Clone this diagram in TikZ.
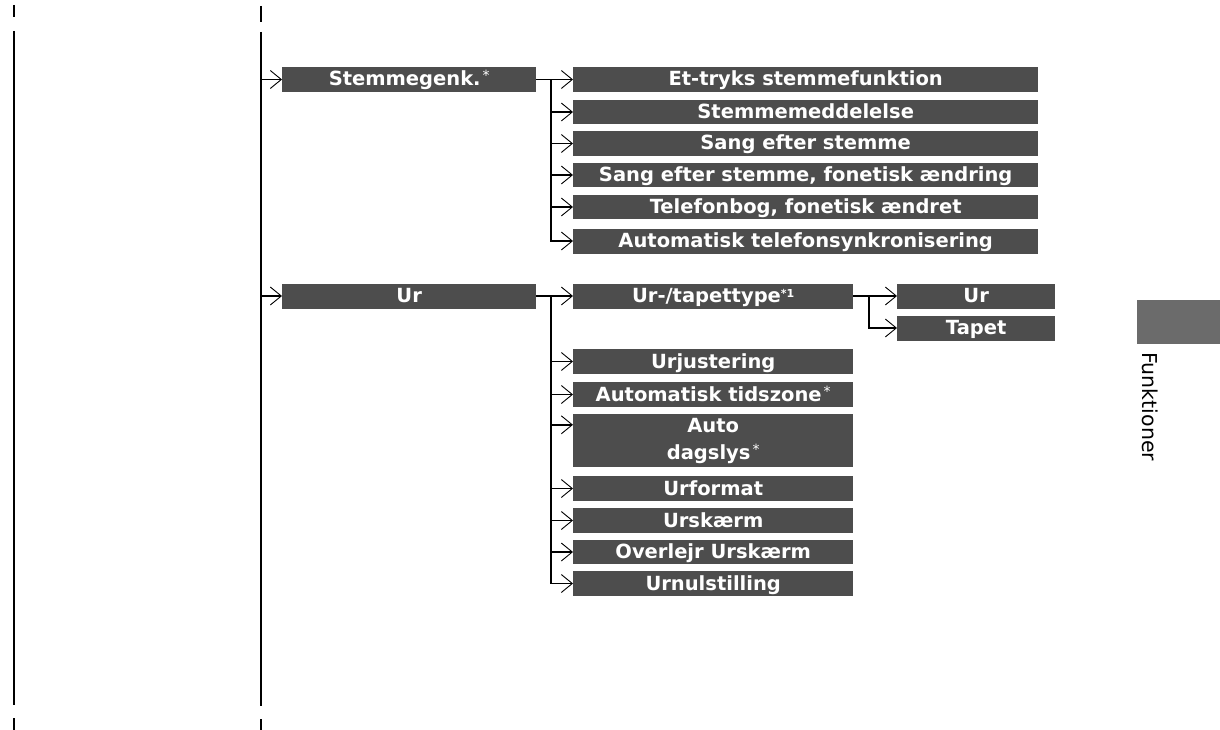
\documentclass[tikz,border=0pt]{standalone}
\usepackage{fontspec}
\setmainfont{DejaVu Sans}
\usetikzlibrary{arrows.meta,calc}
\definecolor{boxgray}{HTML}{4D4D4D}
\definecolor{tabgray}{HTML}{6B6B6B}
\newcommand{\starmark}{\hspace{2pt}\raisebox{5pt}{\fontsize{14}{14}\mdseries\selectfont *}}
\newcommand{\starone}{\raisebox{5.5pt}{\fontsize{11}{11}\selectfont *1}}
\begin{document}
\begin{tikzpicture}[x=1pt,y=-1pt,
  base/.style={fill=boxgray,text=white,font=\bfseries\fontsize{19.5}{27}\selectfont,anchor=west,inner sep=0pt,minimum height=25pt,align=center},
  box/.style={base,text height=15pt,text depth=2pt},
  lvl1/.style={box,minimum width=254pt},
  lvlS/.style={box,minimum width=465pt},
  lvlU/.style={box,minimum width=280pt},
  lvlT/.style={box,minimum width=158pt},
  arr/.style={-{Straight Barb[length=11pt,width=18pt,line width=0.9pt]},line width=1.5pt},
  ln/.style={line width=1.5pt,line cap=rect},
  spine/.style={line width=2pt}]
\useasboundingbox (0,0) rectangle (1220,730);
% crop marks
\draw[spine] (14,5) -- (14,17);
\draw[spine] (261,6) -- (261,22);
\draw[spine] (14,718) -- (14,730);
\draw[spine] (261,719) -- (261,730);
% spines
\coordinate (lp) at (14,31);
\coordinate (lpe) at (14,705);
\coordinate (sp) at (261,32);
\coordinate (spe) at (261,706);
\draw[spine] (lp) -- (lpe);
\draw[spine] (sp) -- (spe);
% level 1
\node[lvl1] (st) at (282,79.5) {Stemmegenk.\starmark};
\node[lvl1] (ur) at (282,296) {Ur};
% stemme children
\node[lvlS] (s1) at (573,79.5) {Et-tryks stemmefunktion};
\node[lvlS,minimum height=24pt] (s2) at (573,112) {Stemmemeddelelse};
\node[lvlS] (s3) at (573,143.5) {Sang efter stemme};
\node[lvlS,minimum height=24pt] (s4) at (573,175) {Sang efter stemme, fonetisk ændring};
\node[lvlS,minimum height=24pt] (s5) at (573,207) {Telefonbog, fonetisk ændret};
\node[lvlS] (s6) at (573,241) {Automatisk telefonsynkronisering};
% ur children
\node[lvlU] (u1) at (573,296) {Ur-/tapettype\starone};
\node[lvlT] (ua) at (897,296) {Ur};
\node[lvlT] (ub) at (897,328) {Tapet};
\node[lvlU] (u2) at (573,361.5) {Urjustering};
\node[lvlU] (u3) at (573,394.5) {Automatisk tidszone\starmark};
\node[base,minimum width=280pt,minimum height=53pt] (u4) at (573,440.5) {Auto\\dagslys\starmark};
\node[lvlU] (u5) at (573,488.5) {Urformat};
\node[lvlU] (u6) at (573,520.5) {Urskærm};
\node[lvlU,minimum height=24pt] (u7) at (573,552) {Overlejr Urskærm};
\node[lvlU] (u8) at (573,583.5) {Urnulstilling};
% tab
\node[fill=tabgray,minimum width=83pt,minimum height=44pt,anchor=north west,inner sep=0pt] (tab) at (1137,300) {};
\node[rotate=-90,anchor=west,inner sep=0pt,font=\fontsize{20.5}{20.5}\selectfont] (fk) at (1150,352) {Funktioner};
% connectors level 1
\draw[arr] (sp |- st.west) -- (st.west);
\draw[arr] (sp |- ur.west) -- (ur.west);
% stemme branch
\coordinate (bs) at (551,0);
\draw[arr] (st.east) -- (s1.west);
\draw[ln] (bs |- st.east) -- (bs |- s6.west);
\foreach \n in {s2,s3,s4,s5,s6} \draw[arr] (bs |- \n.west) -- (\n.west);
% ur branch
\draw[arr] (ur.east) -- (u1.west);
\draw[ln] (bs |- ur.east) -- (bs |- u8.west);
\foreach \n in {u2,u3,u5,u6,u7,u8} \draw[arr] (bs |- \n.west) -- (\n.west);
\draw[arr] ($(bs |- u4.north)+(0,11)$) -- ($(u4.north west)+(0,11)$);
% tapet branch
\coordinate (bt) at (869,0);
\draw[arr] (u1.east) -- (ua.west);
\draw[ln] (bt |- u1.east) -- (bt |- ub.west);
\draw[arr] (bt |- ub.west) -- (ub.west);
\end{tikzpicture}
\end{document}
